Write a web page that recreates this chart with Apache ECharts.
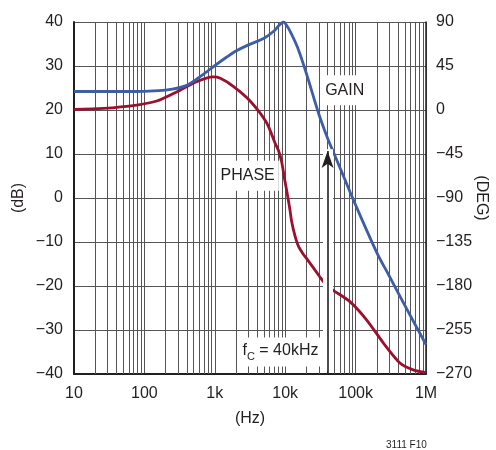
<!DOCTYPE html>
<html><head><meta charset="utf-8">
<script src="https://cdn.jsdelivr.net/npm/echarts@6/dist/echarts.min.js"></script>
<style>html,body{margin:0;padding:0;background:#fff}#c{width:496px;height:450px}</style>
</head><body><div id="c"></div>
<script>
// ---- data ----
const freqGain = [10, 50, 100, 200, 400, 700, 1000, 1500, 2000, 3000, 5000, 7000, 8000, 9000, 9500, 10500, 12000, 15000, 20000, 30000, 40000, 50000, 70000, 100000, 200000, 300000, 500000, 1000000];
const gainDb   = [24.2, 24.2, 24.25, 24.5, 25.6, 28.2, 30.1, 32.1, 33.4, 34.8, 36.3, 38.0, 39.1, 39.8, 40.0, 39.2, 37.6, 34.2, 28.3, 19.1, 13.6, 9.9, 4.3, -1.6, -12.4, -17.7, -24.4, -33.3];
const freqPhase = [10, 26, 78, 150, 290, 550, 940, 1200, 1850, 3150, 5450, 7170, 7980, 8900, 9930, 10480, 11680, 12350, 13750, 15350, 18060, 20200, 31000, 35000, 46000, 83000, 144000, 250000, 430000, 670000, 1000000];
const phaseDeg  = [0.7, 1.7, 5.1, 9.2, 18.7, 28.9, 33.8, 32.5, 24, 9.5, -13, -33.8, -41, -53, -73, -82, -102, -114, -128.5, -139, -147.5, -152, -170.5, -175.6, -183.4, -196, -214.8, -238.6, -259, -266, -268.5];
const minorFreqs = [20,30,40,50,60,70,80,90, 200,300,400,500,600,700,800,900, 2000,3000,4000,5000,6000,7000,8000,9000, 20000,30000,40000,50000,60000,70000,80000,90000, 200000,300000,400000,500000,600000,700000,800000,900000];
const xTickLabels = {10:'10', 100:'100', 1000:'1k', 10000:'10k', 100000:'100k', 1000000:'1M'};
const degLabels = {90:'90', 45:'45', 0:'0', '-45':'\u221245', '-90':'\u221290', '-135':'\u2212135', '-180':'\u2212180', '-225':'\u2212255', '-270':'\u2212270'};
const fcFreq = 40000;
const arrowTopDb = 10.7;
const labelPhase = {f: 2930, db: 5.05, text: 'PHASE'};
const labelGain = {f: 70000, db: 24.5, text: 'GAIN'};
const labelFc = {f: 8570, db: -35, text: '{m|f}{s|C}{m| = 40kHz}'};

const FONT = '"Liberation Sans",Arial,sans-serif';
const FS = 16;
const TXT = '#231f20';
const GRID = '#555';

const chart = echarts.init(document.getElementById('c'), null, {renderer:'canvas'});
const zip = (a,b) => a.map((v,i)=>[v,b[i]]);
const lbl = (o, extra) => Object.assign({
  coord:[o.f, o.db], value: o.text,
  label:{show:true, position:'inside', formatter:o.text, color:TXT, fontSize:FS, fontFamily:FONT,
    backgroundColor:'#fff', padding:[7,4,7,4]}
}, extra||{});

chart.setOption({
  backgroundColor:'#fff',
  animation:false,
  grid:{left:74, right:70, top:22, bottom:76, containLabel:false, outerBoundsMode:'none'},
  xAxis:{type:'log', logBase:10, min:10, max:1000000,
    axisLine:{show:true, onZero:false, lineStyle:{color:TXT, width:2}},
    axisTick:{show:false},
    axisLabel:{color:TXT, fontSize:FS, fontFamily:FONT, margin:12,
      formatter:v=>xTickLabels[Math.round(v)] || ''},
    splitLine:{show:true, lineStyle:{color:GRID, width:1}},
    name:'(Hz)', nameLocation:'middle', nameGap:37, nameMoveOverlap:false,
    nameTextStyle:{color:TXT, fontSize:FS, fontFamily:FONT}
  },
  yAxis:[
    {type:'value', min:-40, max:40, interval:10,
      axisLine:{show:true, onZero:false, lineStyle:{color:TXT, width:2}},
      axisTick:{show:false},
      axisLabel:{color:TXT, fontSize:FS, fontFamily:FONT, margin:11,
        formatter:v=> v<0 ? '\u2212'+Math.abs(v) : String(v)},
      splitLine:{show:true, lineStyle:{color:GRID, width:1}},
      name:'(dB)', nameLocation:'middle', nameRotate:90, nameGap:47, nameMoveOverlap:false,
      nameTextStyle:{color:TXT, fontSize:FS, fontFamily:FONT}
    },
    {type:'value', position:'right', min:-270, max:90, interval:45,
      axisLine:{show:true, onZero:false, lineStyle:{color:TXT, width:1.5}},
      axisTick:{show:false},
      axisLabel:{color:TXT, fontSize:FS, fontFamily:FONT, margin:10,
        formatter:v=> degLabels[String(Math.round(v))] || ''},
      splitLine:{show:false},
      name:'(DEG)', nameLocation:'middle', nameRotate:-90, nameGap:47, nameMoveOverlap:false,
      nameTextStyle:{color:TXT, fontSize:FS, fontFamily:FONT}
    }
  ],
  series:[
    {name:'PHASE', type:'line', yAxisIndex:1, data:zip(freqPhase, phaseDeg),
      showSymbol:false, smooth:0.25, z:2,
      lineStyle:{color:'#9b0f2f', width:2.8},
      markLine:{silent:true, symbol:'none', z:1, animation:false,
        label:{show:false}, lineStyle:{color:GRID, width:1, type:'solid'},
        data:minorFreqs.map(f=>({xAxis:f}))}
    },
    {name:'GAIN', type:'line', yAxisIndex:0, data:zip(freqGain, gainDb),
      showSymbol:false, smooth:0.3, z:3,
      lineStyle:{color:'#3d5da8', width:2.8},
      markLine:{silent:true, z:4, animation:false, label:{show:false},
        data:[
          [{coord:[fcFreq,-39.4], symbol:'none', lineStyle:{color:'#fff', width:10, type:'solid'}},
           {coord:[fcFreq,arrowTopDb+0.4], symbol:'none'}],
          [{coord:[fcFreq,-40], symbol:'none', lineStyle:{color:TXT, width:1.6, type:'solid'}},
           {coord:[fcFreq,arrowTopDb], symbol:'arrow', symbolSize:[9,17]}]
        ]},
      markPoint:{silent:true, z:6, symbol:'circle', symbolSize:1, itemStyle:{color:'rgba(0,0,0,0)'},
        data:[
          lbl(labelPhase),
          lbl(labelGain),
          lbl(labelFc, {label:{show:true, position:'inside', formatter:labelFc.text,
            backgroundColor:'#fff', padding:[5,3,4,3],
            rich:{m:{fontSize:FS, fontFamily:FONT, color:TXT, lineHeight:20, verticalAlign:'top'},
                  s:{fontSize:11, fontFamily:FONT, color:TXT, lineHeight:11, padding:[9,0,0,0], verticalAlign:'top'}}}})
        ]}
    }
  ],
  graphic:[{type:'text', left:386, top:440, style:{text:'3111 F10', fill:TXT, font:'10px '+FONT}}]
});
</script></body></html>
